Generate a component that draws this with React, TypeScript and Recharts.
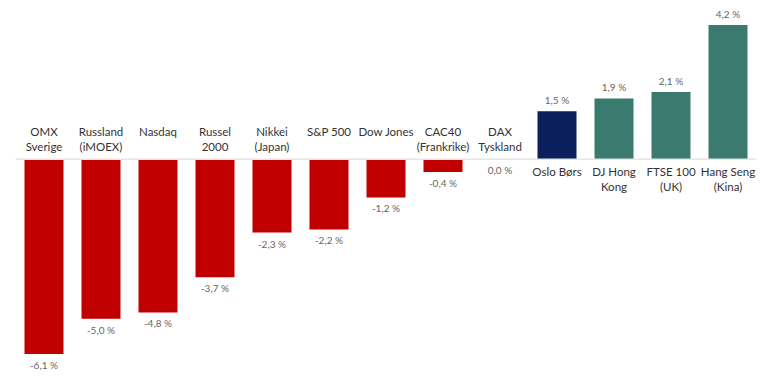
import React from "react";
import { BarChart, Bar, XAxis, YAxis, Cell, LabelList, ReferenceLine } from "recharts";

const categories: string[] = [
  "OMX\nSverige",
  "Russland\n(iMOEX)",
  "Nasdaq",
  "Russel\n2000",
  "Nikkei\n(Japan)",
  "S&P 500",
  "Dow Jones",
  "CAC40\n(Frankrike)",
  "DAX\nTyskland",
  "Oslo Børs",
  "DJ Hong\nKong",
  "FTSE 100\n(UK)",
  "Hang Seng\n(Kina)",
];
const values: number[] = [-6.1, -5.0, -4.8, -3.7, -2.3, -2.2, -1.2, -0.4, 0.0, 1.5, 1.9, 2.1, 4.2];
const highlight = "Oslo Børs";

const RED = "#C00000";
const NAVY = "#0A1F5C";
const TEAL = "#3B7B6F";

const data = categories.map((c, i) => ({ name: c, value: values[i] }));

const fmt = (v: number) => v.toFixed(1).replace(".", ",") + " %";

const FONT = "Lato, 'Open Sans', sans-serif";

const renderLabels = (props: any) => {
  const { x, y, width, height, value } = props;
  const index = categories.indexOf(value);
  if (index < 0) return null;
  const v = values[index];
  const top = Math.min(y, y + height);
  const bottom = Math.max(y, y + height);
  const cx = x + width / 2;
  const lines = categories[index].split("\n");
  let catY0: number;
  let valY: number;
  if (v > 0) {
    catY0 = bottom + 12;
    valY = top - 11;
  } else if (v < 0) {
    catY0 = top - 28;
    valY = bottom + 11;
  } else {
    catY0 = bottom - 28;
    valY = bottom + 11;
  }
  return (
    <g>
      <text
        x={cx}
        y={catY0}
        textAnchor="middle"
        dominantBaseline="central"
        fontFamily={FONT}
        fontSize={11.5}
        fill="#333333"
      >
        {lines.map((l, i) => (
          <tspan key={i} x={cx} dy={i === 0 ? 0 : 15}>
            {l}
          </tspan>
        ))}
      </text>
      <text
        x={cx}
        y={valY}
        textAnchor="middle"
        dominantBaseline="central"
        fontFamily={FONT}
        fontSize={10}
        fill="#666666"
      >
        {fmt(v)}
      </text>
    </g>
  );
};

export default function App() {
  return (
    <div style={{ position: "absolute", left: 0, top: 0, background: "#fff" }}>
      <BarChart
        width={767}
        height={377}
        data={data}
        margin={{ top: 25, right: 10.5, bottom: 23, left: 15.5 }}
      >
        <XAxis dataKey="name" hide />
        <YAxis hide domain={[-6.1, 4.2]} allowDataOverflow />
        <ReferenceLine y={0} stroke="#e6e6e6" strokeWidth={1.5} />
        <Bar
          dataKey="value"
          barSize={39}
          isAnimationActive={false}
          minPointSize={(v: number) => (v === 0 ? 1 : 0)}
        >
          {data.map((d, i) => (
            <Cell
              key={i}
              fill={
                d.value === 0
                  ? "transparent"
                  : d.value < 0
                  ? RED
                  : d.name === highlight
                  ? NAVY
                  : TEAL
              }
            />
          ))}
          <LabelList dataKey="name" content={renderLabels} />
        </Bar>
      </BarChart>
    </div>
  );
}
